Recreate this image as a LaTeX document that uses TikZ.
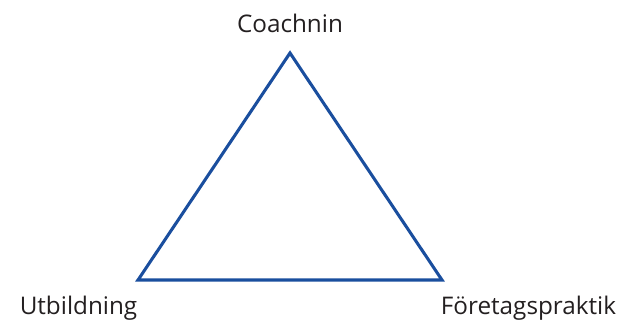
\documentclass[tikz,border=0pt]{standalone}
\usepackage{fontspec}
\setmainfont{Open Sans}
\usepackage{tikz}
\usetikzlibrary{calc}

\definecolor{triblue}{HTML}{1A4E9E}
\definecolor{txtgray}{HTML}{231F20}

\begin{document}
\begin{tikzpicture}[x=0.75pt,y=-0.75pt]
		\tikzset{lbl/.style={text=txtgray,font=\fontsize{18.2}{21}\selectfont,inner sep=0pt}}
		\useasboundingbox (0,0) rectangle (617,326);
		\coordinate (top) at (290,53);
		\coordinate (left) at (138,280);
		\coordinate (right) at (442,280);
		\node (coach) at (290,23) [lbl] {Coachnin};
		\node (utb) at (78.5,308) [lbl] {Utbildning};
		\node (prakt) at (528.5,308) [lbl] {Företagspraktik};
		
		%Triangel
		\draw[triblue,line width=2.3pt,line join=miter] (top) -- (right) -- (left) -- cycle;
	\end{tikzpicture}
\end{document}
